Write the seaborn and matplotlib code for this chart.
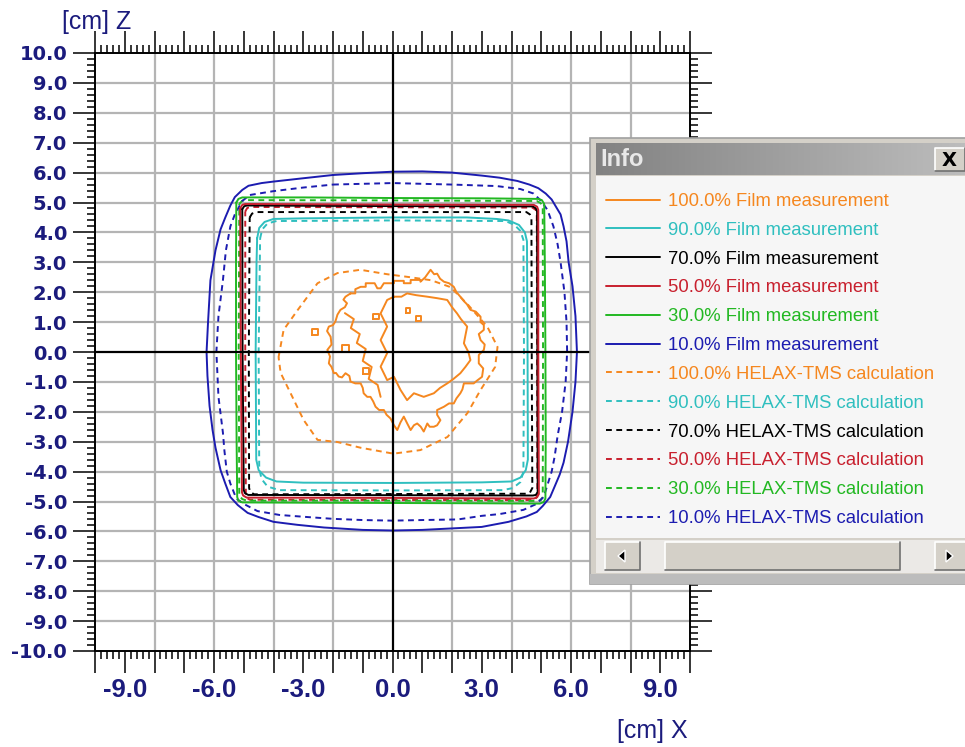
import numpy as np
import pandas as pd
import matplotlib
matplotlib.use("Agg")
import matplotlib.pyplot as plt
import seaborn as sns
from matplotlib.ticker import MultipleLocator, FuncFormatter
from matplotlib.patches import Rectangle, Polygon
from matplotlib.lines import Line2D
from matplotlib.colors import LinearSegmentedColormap

# ---------------- data (cm) ----------------
FILM_10 = [(-2.0, 5.92), (-1.0, 5.98), (0.0, 6.03), (1.0, 6.04), (2.0, 6.0), (3.0, 5.9), (3.6, 5.83),
           (4.2, 5.72), (4.6, 5.6), (4.9, 5.48), (5.15, 5.3), (5.35, 5.1), (5.5, 4.85), (5.65, 4.6),
           (5.75, 4.2), (5.85, 3.7), (5.92, 3.0), (6.05, 2.2), (6.15, 1.2), (6.2, 0.0), (6.15, -1.0),
           (6.05, -2.0), (5.9, -3.0), (5.75, -3.7), (5.62, -4.1), (5.45, -4.5), (5.3, -4.85),
           (5.05, -5.15), (4.85, -5.35), (4.5, -5.5), (3.9, -5.68), (3.0, -5.85), (2.0, -5.9),
           (1.0, -5.95), (0.0, -5.97), (-1.0, -5.95), (-2.3, -5.87), (-3.2, -5.78), (-4.0, -5.68),
           (-4.5, -5.52), (-4.87, -5.38), (-5.2, -5.12), (-5.45, -4.85), (-5.62, -4.4), (-5.78, -3.95),
           (-5.95, -3.2), (-6.05, -2.6), (-6.15, -1.8), (-6.22, -0.8), (-6.25, 0.0), (-6.2, 1.0),
           (-6.12, 2.4), (-5.95, 3.4), (-5.78, 4.1), (-5.62, 4.5), (-5.45, 4.9), (-5.3, 5.18),
           (-5.05, 5.42), (-4.84, 5.56), (-4.4, 5.65), (-4.0, 5.7), (-3.1, 5.8), (-2.0, 5.92)]
CALC_10 = [(-2.0, 5.6), (0.0, 5.65), (2.0, 5.6), (3.5, 5.55), (4.3, 5.45), (4.74, 5.3), (5.0, 5.05),
           (5.21, 4.75), (5.41, 4.2), (5.55, 3.6), (5.65, 3.0), (5.78, 2.0), (5.85, 1.0), (5.87, 0.0),
           (5.82, -1.0), (5.7, -2.0), (5.55, -2.8), (5.45, -3.5), (5.35, -4.0), (5.08, -4.85),
           (4.8, -5.1), (4.4, -5.28), (3.6, -5.42), (3.0, -5.48), (2.2, -5.6), (1.0, -5.62),
           (0.0, -5.64), (-1.0, -5.62), (-2.0, -5.58), (-2.86, -5.52), (-3.8, -5.45), (-4.54, -5.32),
           (-5.0, -5.08), (-5.25, -4.9), (-5.45, -4.4), (-5.57, -4.0), (-5.65, -3.3), (-5.7, -2.7),
           (-5.85, -1.5), (-5.92, 0.0), (-5.85, 1.2), (-5.7, 2.4), (-5.6, 3.4), (-5.45, 4.2),
           (-5.3, 4.6), (-5.05, 5.05), (-4.8, 5.25), (-4.0, 5.38), (-3.0, 5.5), (-2.0, 5.6)]
FILM_30 = [(-5.25, 5.0), (-5.18, 5.12), (-5.05, 5.17), (-3.0, 5.17), (0.0, 5.15), (3.0, 5.14),
           (4.9, 5.12), (5.02, 5.08), (5.1, 4.95), (5.12, 3.0), (5.14, 0.0), (5.15, -3.0),
           (5.14, -4.9), (5.08, -5.02), (4.95, -5.07), (3.0, -5.06), (0.0, -5.05), (-3.0, -5.04),
           (-5.05, -5.03), (-5.18, -4.97), (-5.22, -4.85), (-5.24, -3.0), (-5.26, 0.0),
           (-5.26, 3.0), (-5.25, 5.0)]
CALC_30 = [(-5.15, 4.95), (-5.05, 5.06), (-4.9, 5.08), (0.0, 5.07), (4.85, 5.05), (4.98, 4.98),
           (5.05, 4.85), (5.06, 0.0), (5.05, -4.85), (4.98, -4.96), (4.85, -4.98), (0.0, -4.97),
           (-4.9, -4.97), (-5.05, -4.92), (-5.15, -4.8), (-5.17, 0.0), (-5.15, 4.95)]
FILM_50 = [(-5.12, 4.8), (-5.05, 4.92), (-4.95, 4.95), (0.0, 4.93), (4.75, 4.92), (4.86, 4.86),
           (4.9, 4.75), (4.9, 0.0), (4.92, -4.75), (4.86, -4.86), (4.75, -4.9), (0.0, -4.88),
           (-4.9, -4.87), (-5.02, -4.8), (-5.06, -4.7), (-5.1, 0.0), (-5.12, 4.8)]
CALC_50 = [(-4.95, 4.7), (-4.88, 4.82), (-4.75, 4.85), (0.0, 4.84), (4.7, 4.83), (4.82, 4.75),
           (4.85, 4.62), (4.86, 0.0), (4.87, -4.8), (4.8, -4.92), (4.68, -4.95), (0.0, -4.95),
           (-4.8, -4.94), (-4.9, -4.88), (-4.93, -4.75), (-4.95, 0.0), (-4.95, 4.7)]
FILM_70 = [(-5.05, 4.78), (-4.98, 4.88), (-4.88, 4.9), (0.0, 4.88), (4.72, 4.87), (4.82, 4.8),
           (4.86, 4.7), (4.87, 0.0), (4.88, -4.68), (4.82, -4.78), (4.72, -4.8), (0.0, -4.79),
           (-4.85, -4.78), (-4.96, -4.72), (-5.0, -4.62), (-5.04, 0.0), (-5.05, 4.78)]
CALC_70 = [(-4.8, 4.5), (-4.72, 4.63), (-4.58, 4.68), (0.0, 4.68), (4.5, 4.68), (4.62, 4.6),
           (4.67, 4.48), (4.68, 0.0), (4.7, -4.55), (4.62, -4.7), (4.5, -4.74), (0.0, -4.75),
           (-4.65, -4.76), (-4.78, -4.68), (-4.82, -4.55), (-4.83, 0.0), (-4.8, 4.5)]
FILM_90 = [(-4.55, 3.8), (-4.48, 4.15), (-4.3, 4.35), (-4.0, 4.45), (-3.0, 4.47), (0.0, 4.5),
           (2.5, 4.5), (3.5, 4.45), (3.9, 4.4), (4.25, 4.25), (4.45, 4.0), (4.52, 3.7), (4.54, 0.0),
           (4.55, -3.6), (4.48, -3.95), (4.3, -4.2), (4.0, -4.33), (3.0, -4.36), (0.0, -4.38),
           (-3.0, -4.37), (-3.9, -4.33), (-4.25, -4.2), (-4.5, -3.95), (-4.58, -3.6), (-4.6, 0.0),
           (-4.57, 3.0), (-4.55, 3.8)]
CALC_90 = [(-4.45, 3.8), (-4.38, 4.1), (-4.2, 4.3), (-3.9, 4.38), (0.0, 4.4), (3.8, 4.38),
           (4.1, 4.25), (4.3, 4.05), (4.4, 3.75), (4.42, 0.0), (4.4, -4.0), (4.3, -4.35),
           (4.05, -4.55), (3.7, -4.62), (0.0, -4.63), (-3.8, -4.62), (-4.2, -4.5), (-4.4, -4.25),
           (-4.48, -3.9), (-4.5, 0.0), (-4.45, 3.8)]
CALC_100 = [(-3.83, -0.17), (-3.66, 0.74), (-3.19, 1.4), (-2.52, 2.3), (-1.85, 2.64), (-1.08, 2.75),
            (-0.17, 2.6), (0.6, 2.5), (1.3, 2.4), (1.95, 2.17), (2.52, 1.6), (3.19, 0.84),
            (3.53, 0.17), (3.45, -0.5), (2.96, -1.27), (2.52, -2.04), (1.85, -2.84), (0.94, -3.28),
            (0.03, -3.4), (-1.08, -3.2), (-1.85, -3.01), (-2.52, -2.94), (-2.99, -2.27),
            (-3.43, -1.37), (-3.76, -0.7), (-3.83, -0.17)]
FILM_100_OUTER = [(-1.41, 1.96), (-1.25, 1.96), (-1.25, 2.1), (-1.07, 2.18), (-0.9, 2.18), (-0.9, 2.3),
                  (-0.74, 2.30), (-0.6, 2.3), (-0.51, 2.13), (-0.4, 2.13), (-0.29, 2.30), (0.05, 2.30),
                  (0.05, 2.38), (0.38, 2.38), (0.38, 2.30), (0.61, 2.30), (0.61, 2.41), (0.94, 2.41),
                  (0.94, 2.35), (1.1, 2.5), (1.28, 2.75), (1.4, 2.6), (1.5, 2.62), (1.6, 2.45),
                  (1.73, 2.35), (1.9, 2.3), (2.06, 2.18), (2.15, 2.0), (2.28, 1.85), (2.4, 1.7),
                  (2.5, 1.6), (2.62, 1.41), (2.8, 1.35), (2.96, 1.18), (2.96, 1.0), (3.07, 0.9),
                  (3.07, 0.74), (2.9, 0.6), (2.96, 0.4), (3.1, 0.25), (3.07, 0.07), (2.9, -0.1),
                  (2.9, -0.38), (3.05, -0.55), (3.01, -0.83), (2.85, -0.95), (2.73, -1.05),
                  (2.4, -1.05), (2.35, -1.25), (2.28, -1.38), (2.15, -1.55), (2.06, -1.72),
                  (1.9, -1.72), (1.73, -1.83), (1.5, -1.94), (1.5, -2.1), (1.61, -2.28), (1.5, -2.45),
                  (1.39, -2.5), (1.25, -2.5), (1.17, -2.39), (1.1, -2.55), (1.05, -2.66), (0.95, -2.5),
                  (0.83, -2.39), (0.72, -2.45), (0.61, -2.61), (0.5, -2.4), (0.38, -2.16),
                  (0.27, -2.35), (0.16, -2.61), (0.05, -2.45), (-0.07, -2.22), (-0.2, -2.1),
                  (-0.29, -1.94), (-0.45, -1.94), (-0.57, -1.83), (-0.65, -1.65), (-0.74, -1.5),
                  (-0.85, -1.5), (-0.97, -1.38), (-1.0, -1.2), (-1.07, -1.05), (-1.25, -1.05),
                  (-1.41, -0.99), (-1.45, -0.8), (-1.58, -0.71), (-1.7, -0.85), (-1.81, -0.82),
                  (-1.9, -0.7), (-1.97, -0.71), (-2.05, -0.5), (-2.14, -0.38), (-2.1, -0.15),
                  (-2.19, 0.07), (-2.05, 0.25), (-2.08, 0.51), (-2.2, 0.7), (-2.14, 0.85), (-2.0, 0.9),
                  (-1.92, 1.02), (-1.85, 1.25), (-1.75, 1.41), (-1.6, 1.5), (-1.53, 1.63),
                  (-1.65, 1.75), (-1.58, 1.85), (-1.41, 1.96)]
FILM_100_INNER = [(0.05, 1.85), (0.3, 1.85), (0.49, 1.96), (0.8, 1.9), (1.17, 1.85), (1.5, 1.8),
                  (1.84, 1.74), (2.0, 1.5), (2.17, 1.29), (2.3, 1.1), (2.51, 0.85), (2.45, 0.55),
                  (2.4, 0.29), (2.55, 0.0), (2.62, -0.27), (2.45, -0.5), (2.28, -0.71), (2.05, -0.9),
                  (1.84, -1.05), (1.6, -1.2), (1.39, -1.38), (1.05, -1.5), (0.72, -1.38),
                  (0.49, -1.61), (0.27, -1.27), (0.05, -0.83), (-0.18, -0.94), (-0.4, -0.49),
                  (-0.18, -0.04), (-0.4, 0.4), (-0.18, 0.85), (-0.4, 1.29), (-0.18, 1.74),
                  (0.05, 1.85)]
FILM_100_STRAND = [(-1.6, 1.3), (-1.3, 1.1), (-1.4, 0.8), (-1.1, 0.6), (-1.2, 0.3), (-0.9, 0.1),
                   (-1.0, -0.3), (-0.7, -0.5), (-0.8, -0.9), (-0.5, -1.1), (-0.4, -1.5)]
FILM_100_ISLE_A = [(-2.72, 0.58), (-2.5, 0.58), (-2.5, 0.78), (-2.72, 0.78), (-2.72, 0.58)]
FILM_100_ISLE_B = [(-0.66, 1.1), (-0.46, 1.1), (-0.46, 1.28), (-0.66, 1.28), (-0.66, 1.1)]
FILM_100_ISLE_C = [(-1.7, 0.0), (-1.45, 0.0), (-1.45, 0.25), (-1.7, 0.25), (-1.7, 0.0)]
FILM_100_ISLE_D = [(0.45, 1.3), (0.6, 1.3), (0.6, 1.46), (0.45, 1.46), (0.45, 1.3)]
FILM_100_ISLE_E = [(0.8, 1.05), (0.95, 1.05), (0.95, 1.2), (0.8, 1.2), (0.8, 1.05)]
FILM_100_ISLE_F = [(-1.0, -0.75), (-0.8, -0.75), (-0.8, -0.55), (-1.0, -0.55), (-1.0, -0.75)]

LEGEND_LABELS = ["100.0% Film measurement", "90.0% Film measurement", "70.0% Film measurement",
                 "50.0% Film measurement", "30.0% Film measurement", "10.0% Film measurement",
                 "100.0% HELAX-TMS calculation", "90.0% HELAX-TMS calculation",
                 "70.0% HELAX-TMS calculation", "50.0% HELAX-TMS calculation",
                 "30.0% HELAX-TMS calculation", "10.0% HELAX-TMS calculation"]
LEVEL_COLORS = ["#f5871f", "#2fbfbf", "#000000", "#c8202e", "#22b822", "#1c1cb0"]
GRID_X = [-8, -6, -4, -2, 2, 4, 6, 8]
GRID_Z = [-9, -8, -7, -6, -5, -4, -3, -2, -1, 1, 2, 3, 4, 5, 6, 7, 8, 9]

FILM_PIECES = [[FILM_100_OUTER, FILM_100_INNER, FILM_100_STRAND, FILM_100_ISLE_A, FILM_100_ISLE_B,
                FILM_100_ISLE_C, FILM_100_ISLE_D, FILM_100_ISLE_E, FILM_100_ISLE_F],
               [FILM_90], [FILM_70], [FILM_50], [FILM_30], [FILM_10]]
CALC_PIECES = [[CALC_100], [CALC_90], [CALC_70], [CALC_50], [CALC_30], [CALC_10]]

# ---------------- style ----------------
sns.set_style("white")
plt.rcParams["font.family"] = ["DejaVu Sans"]
plt.rcParams["axes.unicode_minus"] = False

NAVY = "#1b1b7d"
DASH = (0, (3, 2.3))
LW = 1.4

fig = plt.figure(figsize=(9.65, 7.47), dpi=100)
fig.patch.set_facecolor("white")
W, H = 965.0, 747.0
ax = fig.add_axes([95 / W, 1 - 651 / H, 595 / W, 598 / H])
ax.set_facecolor("white")

# grid & zero axes
ax.vlines(GRID_X, -10, 10, colors="#b4b4b4", lw=1.6, zorder=1)
ax.hlines(GRID_Z, -10, 10, colors="#b4b4b4", lw=1.6, zorder=1)
ax.axvline(0, color="black", lw=1.6, zorder=5)
ax.axhline(0, color="black", lw=1.6, zorder=5)

# contours (calc first, film on top)
for lvl, pieces in enumerate(CALC_PIECES):
    for pts in pieces:
        df = pd.DataFrame(pts, columns=["x", "z"])
        sns.lineplot(data=df, x="x", y="z", sort=False, estimator=None, ax=ax,
                     color=LEVEL_COLORS[lvl], lw=LW, linestyle=DASH, legend=False, zorder=3)
for lvl, pieces in enumerate(FILM_PIECES):
    for pts in pieces:
        df = pd.DataFrame(pts, columns=["x", "z"])
        sns.lineplot(data=df, x="x", y="z", sort=False, estimator=None, ax=ax,
                     color=LEVEL_COLORS[lvl], lw=LW, linestyle="-", legend=False, zorder=3)

ax.set_xlim(-10, 10)
ax.set_ylim(-10, 10)
ax.set_xlabel("")
ax.set_ylabel("")
for s in ax.spines.values():
    s.set_color("black")
    s.set_linewidth(1.4)
    s.set_visible(True)

ax.xaxis.set_major_locator(MultipleLocator(1))
ax.xaxis.set_minor_locator(MultipleLocator(0.2))
ax.yaxis.set_major_locator(MultipleLocator(1))
ax.yaxis.set_minor_locator(MultipleLocator(0.2))


def xfmt(v, p):
    r = int(round(v))
    return f"{r:.1f}" if r % 3 == 0 else ""


def yfmt(v, p):
    r = int(round(v))
    return f"{r:.1f}"


ax.xaxis.set_major_formatter(FuncFormatter(xfmt))
ax.yaxis.set_major_formatter(FuncFormatter(yfmt))
ax.tick_params(which="both", direction="out", top=True, right=True, bottom=True, left=True,
               labeltop=False, labelright=False, color="black", width=1.1)
ax.tick_params(which="major", length=15.5)
ax.tick_params(which="minor", length=5.8)
ax.tick_params(axis="x", which="major", pad=4, labelcolor=NAVY)
ax.tick_params(axis="y", which="major", pad=4.5, labelcolor=NAVY)

for lab in ax.get_xticklabels():
    lab.set_fontfamily("Liberation Sans")
    lab.set_fontweight("bold")
    lab.set_fontsize(18.5)
for lab in ax.get_yticklabels():
    lab.set_fontfamily("DejaVu Sans")
    lab.set_fontweight("bold")
    lab.set_fontsize(14)

fig.text(62 / W, 1 - 22 / H, "[cm] Z", ha="left", va="center", color=NAVY,
         fontsize=18, family="Liberation Sans")
fig.text(688 / W, 1 - 731 / H, "[cm] X", ha="right", va="center", color=NAVY,
         fontsize=18, family="Liberation Sans")

# ---------------- Info panel overlay (pixel coords) ----------------
pax = fig.add_axes([0, 0, 1, 1], zorder=6)
pax.patch.set_alpha(0)
pax.axis("off")


def bevel(x, y, w, h, face="#d4d0c8", light="white", dark="#707070", z=2):
    pax.add_patch(Rectangle((x, y), w, h, facecolor=face, edgecolor="none", zorder=z))
    pax.plot([x, x, x + w], [y + h, y, y], color=light, lw=1.2, zorder=z + 0.1)
    pax.plot([x, x + w, x + w], [y + h, y + h, y], color=dark, lw=1.2, zorder=z + 0.1)


pax.add_patch(Rectangle((590, 138), 380, 446, facecolor="#d4d0c8", edgecolor="#a0a0a0",
                        lw=1.2, zorder=1))
pax.add_patch(Rectangle((596, 176), 372, 362, facecolor="#f6f6f6", edgecolor="none", zorder=1.5))
grad = LinearSegmentedColormap.from_list("tb", ["#828282", "#bdbdbd"])
pax.imshow(np.linspace(0, 1, 256)[None, :], extent=(596, 968, 175, 143), cmap=grad,
           aspect="auto", zorder=1.6)
pax.text(600, 160, "Info", color="#e8e8e8", fontsize=17, fontweight="bold", va="center",
         ha="left", family="Liberation Sans", zorder=3)
bevel(935, 148, 30, 23)
pax.text(949, 160, "X", color="black", fontsize=14, fontweight="bold", va="center",
         ha="center", family="DejaVu Sans", zorder=3)
# scrollbar
pax.add_patch(Rectangle((596, 540), 372, 33, facecolor="#ebe9e6", edgecolor="none", zorder=1.7))
bevel(605, 542, 35, 28)
bevel(665, 542, 235, 28)
bevel(935, 542, 32, 28)
pax.add_patch(Polygon([(618, 556), (625, 550), (625, 562)], closed=True, facecolor="black",
                      zorder=3))
pax.add_patch(Polygon([(953, 556), (946, 550), (946, 562)], closed=True, facecolor="black",
                      zorder=3))
pax.add_patch(Rectangle((590, 574), 380, 10, facecolor="#bcbcbc", edgecolor="none", zorder=1.8))
pax.set_xlim(0, W)
pax.set_ylim(H, 0)

handles = [Line2D([], [], color=c, lw=LW, linestyle="-") for c in LEVEL_COLORS] + \
          [Line2D([], [], color=c, lw=LW, linestyle=DASH) for c in LEVEL_COLORS]
leg = fig.legend(handles, LEGEND_LABELS, loc="upper left", bbox_to_anchor=(606 / W, 1 - 193 / H),
                 frameon=False, handlelength=2.9, handletextpad=0.45,
                 labelspacing=0.64, borderpad=0, borderaxespad=0, labelcolor="linecolor",
                 prop={"family": "Liberation Sans", "size": 13.3})
leg.set_zorder(20)

fig.savefig("out.png", dpi=100)
